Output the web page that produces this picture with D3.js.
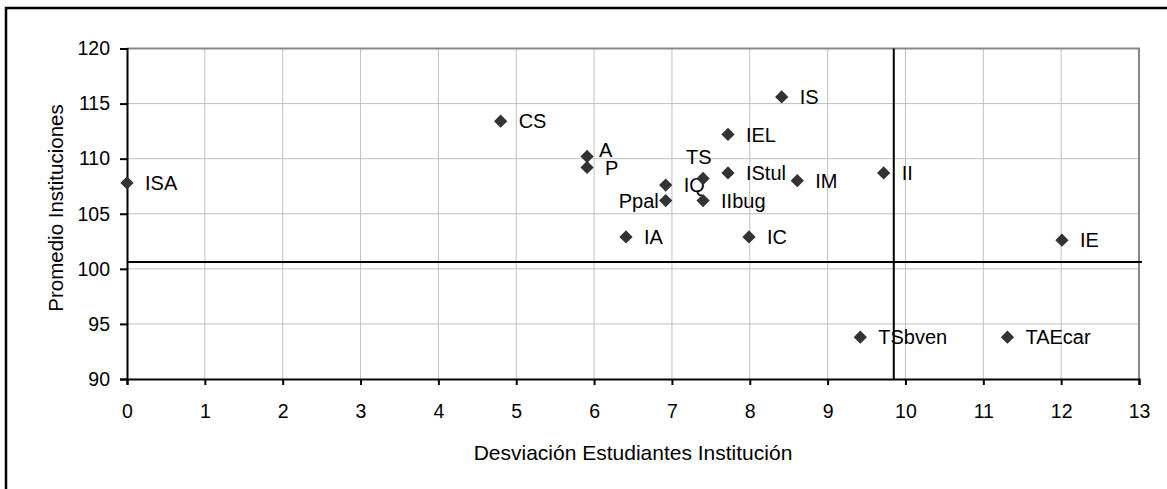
<!DOCTYPE html>
<html>
<head>
<meta charset="utf-8">
<script src="https://cdn.jsdelivr.net/npm/d3@7"></script>
<style>
  body { margin: 0; background: #fff; }
  svg text { font-family: "Liberation Sans", Arial, sans-serif; fill: #000; }
</style>
</head>
<body>
<svg id="chart" width="1167" height="489"></svg>
<script>
// data
var labels = ['ISA', 'CS', 'A', 'P', 'IQ', 'Ppal', 'IA', 'TS', 'IIbug', 'IEL', 'IStul',
  'IC', 'IS', 'IM', 'II', 'TSbven', 'TAEcar', 'IE'];
var desviacion = [0, 4.8, 5.91, 5.91, 6.92, 6.92, 6.41, 7.4, 7.4, 7.72, 7.72,
  7.99, 8.41, 8.61, 9.72, 9.42, 11.31, 12.01];
var promedio = [107.8, 113.4, 110.2, 109.2, 107.6, 106.2, 102.9, 108.2, 106.2, 112.2, 108.7,
  102.9, 115.6, 108.0, 108.7, 93.8, 93.8, 102.6];
var xTicks = [0, 1, 2, 3, 4, 5, 6, 7, 8, 9, 10, 11, 12, 13];
var yTicks = [90, 95, 100, 105, 110, 115, 120];
var refX = 9.85;
var refY = 100.62;

// labels that were moved by hand in the original
var labelOffsets = {
  TS: { dx: -17, dy: -22, anchor: 'start' },
  Ppal: { dx: -7, dy: 0, anchor: 'end' },
  A: { dx: 12, dy: -7, anchor: 'start' }
};

const plotLeft = 127, plotRight = 1139, plotTop = 48.5, plotBottom = 379;

var svg = d3.select('#chart');

svg
  .append('rect')
  .attr('x', 6)
  .attr('y', 8)
  .attr('width', 1300)
  .attr('height', 700)
  .attr('fill', 'none')
  .attr('stroke', '#000')
  .attr('stroke-width', 2.5);

var x = d3.scaleLinear().domain([0, 13]).range([plotLeft, plotRight]);
var y = d3.scaleLinear().domain([90, 120]).range([plotBottom, plotTop]);

// grid
svg
  .append('g')
  .selectAll('line')
  .data(xTicks.slice(1, -1))
  .enter()
  .append('line')
  .attr('x1', x)
  .attr('x2', x)
  .attr('y1', plotTop)
  .attr('y2', plotBottom)
  .attr('stroke', '#c0c0c0')
  .attr('stroke-width', 1);
svg
  .append('g')
  .selectAll('line')
  .data(yTicks.slice(1, -1))
  .enter()
  .append('line')
  .attr('x1', plotLeft)
  .attr('x2', plotRight)
  .attr('y1', y)
  .attr('y2', y)
  .attr('stroke', '#c0c0c0')
  .attr('stroke-width', 1);

// plot area border (top and right)
svg
  .append('path')
  .attr('d', 'M' + plotLeft + ',' + plotTop + 'H' + plotRight + 'V' + plotBottom)
  .attr('fill', 'none')
  .attr('stroke', '#888')
  .attr('stroke-width', 2);

// axes
var xAxis = d3.axisBottom(x).tickValues(xTicks).tickSize(6).tickPadding(19).tickFormat(d3.format('d'));
var yAxis = d3.axisLeft(y).tickValues(yTicks).tickSize(7).tickPadding(10).tickFormat(d3.format('d'));

svg
  .append('g')
  .attr('transform', 'translate(0,' + plotBottom + ')')
  .call(xAxis)
  .call(styleAxis);
svg
  .append('g')
  .attr('transform', 'translate(' + plotLeft + ',0)')
  .call(yAxis)
  .call(styleAxis);

function styleAxis(g) {
  g.select('.domain').attr('stroke', '#000').attr('stroke-width', 2);
  g.selectAll('.tick line').attr('stroke', '#000').attr('stroke-width', 2);
  g.selectAll('.tick text')
    .attr('font-size', 19.5)
    .style('font-family', '"Liberation Sans", Arial, sans-serif');
}

// reference lines
svg
  .append('line')
  .attr('x1', x(refX))
  .attr('x2', x(refX))
  .attr('y1', plotTop)
  .attr('y2', plotBottom)
  .attr('stroke', '#000')
  .attr('stroke-width', 2);
svg
  .append('line')
  .attr('x1', plotLeft)
  .attr('x2', plotRight + 3)
  .attr('y1', y(refY))
  .attr('y2', y(refY))
  .attr('stroke', '#000')
  .attr('stroke-width', 2);

// points
var diamond = d3.symbol().type(d3.symbolSquare).size(88);
var points = svg
  .append('g')
  .selectAll('.point')
  .data(labels)
  .enter()
  .append('g')
  .classed('point', true)
  .attr('transform', function (d, i) {
    return 'translate(' + x(desviacion[i]) + ',' + y(promedio[i]) + ')';
  });
points
  .append('path')
  .attr('d', diamond)
  .attr('transform', 'rotate(45)')
  .attr('fill', '#333');
points
  .append('text')
  .attr('font-size', 20)
  .attr('x', function (d) { return getOffset(d).dx; })
  .attr('y', function (d) { return getOffset(d).dy; })
  .attr('dy', '0.36em')
  .attr('text-anchor', function (d) { return getOffset(d).anchor; })
  .text(function (d) { return d; });

function getOffset(name) {
  return labelOffsets[name] || { dx: 18, dy: 0, anchor: 'start' };
}

// titles
svg
  .append('text')
  .attr('x', (plotLeft + plotRight) / 2)
  .attr('y', 460)
  .attr('text-anchor', 'middle')
  .attr('font-size', 21)
  .text('Desviación Estudiantes Institución');
svg
  .append('text')
  .attr('transform', 'translate(63,208) rotate(-90)')
  .attr('text-anchor', 'middle')
  .attr('font-size', 20.5)
  .text('Promedio Instituciones');
</script>
</body>
</html>
